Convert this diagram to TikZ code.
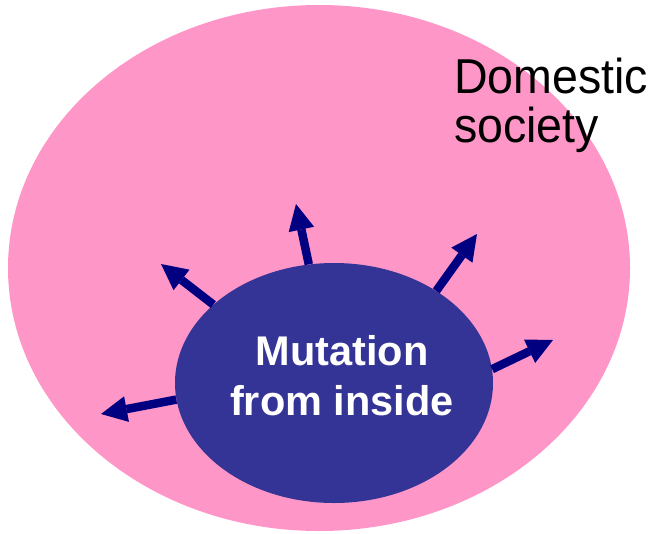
\documentclass[tikz,border=0pt]{standalone}
\usepackage{fontspec}
\setmainfont{Liberation Sans}
\usetikzlibrary{arrows.meta,shapes.geometric}
\definecolor{pinkfill}{HTML}{FF96C8}
\definecolor{bluefill}{HTML}{343497}
\definecolor{arrowblue}{HTML}{000080}
\tikzset{
  region/.style={ellipse, draw=none, inner sep=0pt},
  outarrow/.style={draw=arrowblue, line width=8.5pt,
    -{Triangle[length=26pt,width=26pt,line width=0pt]}},
}
\begin{document}
\begin{tikzpicture}[x=1pt,y=-1pt]
  \useasboundingbox (0,0) rectangle (658,533);
  \node[region, fill=pinkfill, minimum width=622pt, minimum height=526pt] (soc) at (319,268) {};
  \node[region, fill=bluefill, minimum width=318pt, minimum height=240pt] (mut) at (334,383) {};
  \node[anchor=base west, align=left, inner sep=0pt, xscale=0.95, transform shape,
        font=\fontsize{49}{49}\selectfont] (dom) at (454,142) {Domestic\\society};
  \node[anchor=base, align=center, inner sep=0pt, text=white,
        font=\fontsize{41.5}{50}\selectfont\bfseries] (mutlabel) at (342,415) {Mutation\\from inside};
  \coordinate (t1) at (161,264);
  \coordinate (t2) at (296,204);
  \coordinate (t3) at (477,234);
  \coordinate (t4) at (553,340);
  \coordinate (t5) at (101,414);
  \draw[outarrow] (mut.147) -- (t1);
  \draw[outarrow] (mut.102) -- (t2);
  \draw[outarrow] (mut.42) -- (t3);
  \draw[outarrow] (mut.5) -- (t4);
  \draw[outarrow] (mut.186) -- (t5);
\end{tikzpicture}
\end{document}
